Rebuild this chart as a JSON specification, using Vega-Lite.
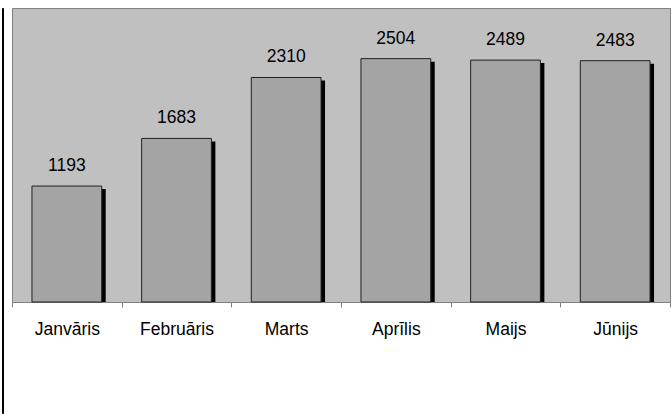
{
  "$schema": "https://vega.github.io/schema/vega-lite/v6.json",
  "padding": {"left": 1, "top": 7, "right": 0, "bottom": 0},
  "background": "white",
  "spacing": 7,
  "config": {"font": "Liberation Sans"},
  "hconcat": [
    {
      "width": 1,
      "height": 405,
      "data": {"values": []},
      "mark": "point",
      "encoding": {},
      "view": {"stroke": "black", "strokeWidth": 1, "fill": "black"}
    },
    {
      "width": 658,
      "height": 294,
      "data": {"values": [
        {"month": "Janvāris", "value": 1193},
        {"month": "Februāris", "value": 1683},
        {"month": "Marts", "value": 2310},
        {"month": "Aprīlis", "value": 2504},
        {"month": "Maijs", "value": 2489},
        {"month": "Jūnijs", "value": 2483}
      ]},
      "view": {"fill": "#c0c0c0", "stroke": "#808080", "strokeWidth": 1},
      "encoding": {
        "x": {
          "field": "month", "type": "nominal", "sort": null,
          "scale": {"paddingInner": 0, "paddingOuter": 0},
          "axis": {
            "title": null, "labelAngle": 0, "labelFontSize": 17.5, "labelColor": "black",
            "labelBaseline": "alphabetic", "labelPadding": 27, "tickSize": 5,
            "tickBand": "extent", "domainColor": "#808080", "tickColor": "#808080",
            "labelFont": "Liberation Sans"
          }
        },
        "y": {
          "field": "value", "type": "quantitative",
          "scale": {"domain": [0, 3025], "nice": false, "zero": true},
          "axis": null
        }
      },
      "layer": [
        {"mark": {"type": "bar", "fill": "black", "xOffset": 4, "yOffset": 3, "clip": true, "width": {"band": 0.636}}},
        {"mark": {"type": "bar", "fill": "#a4a4a4", "stroke": "#222222", "strokeWidth": 1, "width": {"band": 0.636}}},
        {
          "mark": {"type": "text", "dy": -15, "baseline": "alphabetic", "fontSize": 17.5, "fill": "black", "font": "Liberation Sans"},
          "encoding": {"text": {"field": "value", "type": "quantitative"}}
        }
      ]
    }
  ]
}
